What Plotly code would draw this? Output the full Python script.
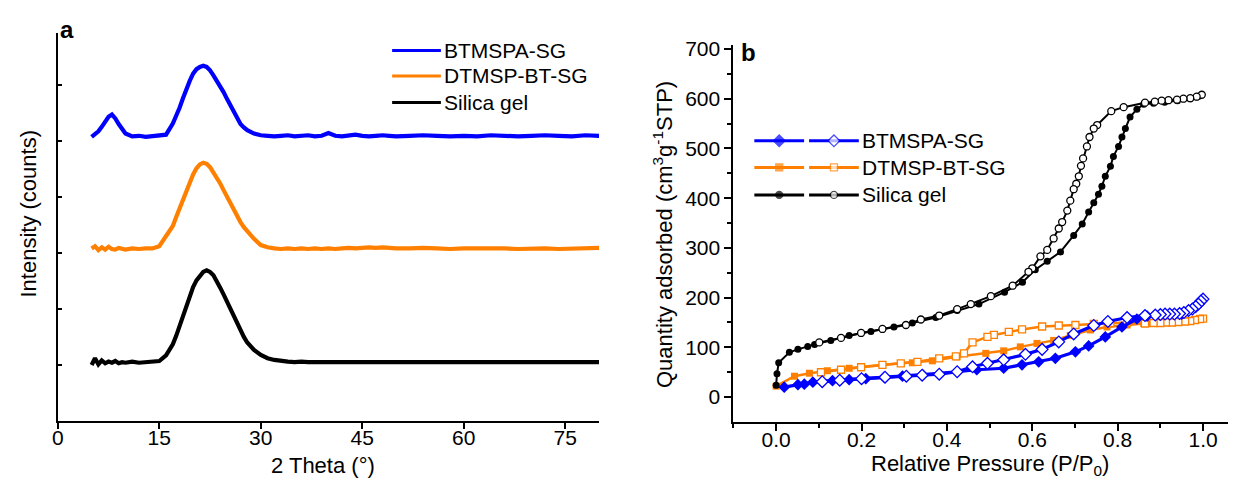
import plotly.graph_objects as go

# the page body keeps an 8 px margin, so the figure is 16 px smaller than the window
OFF = 8
W, H = 1236 - 2 * OFF, 486 - 2 * OFF

# ---- panel a : XRD patterns (curves stacked with an offset) ----
two_theta = [5, 5.5, 6, 6.5, 7, 7.5, 8, 8.5, 9, 9.5, 10, 11, 12, 13, 14, 15, 16, 17,
             17.5, 18, 18.5, 19, 19.5, 20, 20.5, 21, 21.5, 22, 22.5, 23, 23.5, 24, 24.5,
             25, 25.5, 26, 26.5, 27, 27.5, 28, 29, 30, 31, 32, 33, 34, 35, 36, 37, 38,
             39, 40, 41, 42, 43, 44, 45, 46, 47, 48, 49, 50, 52, 54, 56, 58, 60, 62, 64,
             66, 68, 70, 72, 74, 76, 78, 80]

xrd_btmspa = [5070, 5110, 5170, 5250, 5340, 5430, 5470, 5400, 5300, 5210, 5130, 5080, 5090,
              5070, 5080, 5090, 5110, 5310, 5430, 5590, 5760, 5930, 6070, 6200, 6280, 6320,
              6340, 6320, 6260, 6170, 6080, 5990, 5870, 5750, 5630, 5510, 5390, 5300, 5240,
              5190, 5130, 5100, 5090, 5080, 5090, 5100, 5080, 5090, 5100, 5080, 5090, 5140,
              5090, 5080, 5100, 5110, 5090, 5080, 5090, 5100, 5090, 5080, 5090, 5100, 5090,
              5080, 5090, 5080, 5100, 5090, 5080, 5090, 5100, 5090, 5080, 5100, 5090]

xrd_dtmsp = [3080, 3120, 3050, 3100, 3060, 3110, 3070, 3060, 3090, 3070, 3060, 3080, 3070,
             3080, 3080, 3120, 3290, 3480, 3640, 3800, 3960, 4110, 4270, 4400, 4510, 4580,
             4610, 4590, 4530, 4440, 4340, 4240, 4120, 4000, 3880, 3760, 3650, 3550, 3460,
             3380, 3250, 3140, 3100, 3080, 3070, 3080, 3070, 3080, 3070, 3080, 3070, 3080,
             3070, 3080, 3090, 3080, 3090, 3100, 3090, 3100, 3090, 3080, 3080, 3090, 3080,
             3070, 3080, 3080, 3090, 3080, 3070, 3080, 3080, 3070, 3080, 3080, 3090]

xrd_silica = [1000, 1120, 1010, 1080, 1030, 1060, 1040, 1070, 1030, 1050, 1040, 1060, 1040,
              1050, 1050, 1070, 1170, 1370, 1520, 1700, 1880, 2060, 2240, 2390, 2510, 2600,
              2660, 2690, 2660, 2600, 2500, 2380, 2260, 2130, 2000, 1860, 1740, 1620, 1500,
              1400, 1270, 1180, 1120, 1090, 1070, 1060, 1050, 1060, 1050, 1050, 1060, 1050,
              1050, 1060, 1050, 1060, 1050, 1050, 1060, 1050, 1050, 1060, 1050, 1050, 1060,
              1050, 1050, 1060, 1050, 1050, 1060, 1050, 1050, 1050, 1060, 1050, 1050]

# ---- panel b : N2 isotherms (filled = adsorption, open = desorption) ----
sg_ads_p = [0.000, 0.002, 0.006, 0.031, 0.051, 0.074, 0.090, 0.128, 0.171, 0.222, 0.276,
            0.319, 0.374, 0.424, 0.475, 0.535, 0.577, 0.607, 0.635, 0.666, 0.697, 0.717,
            0.732, 0.744, 0.755, 0.763, 0.771, 0.783, 0.790, 0.802, 0.810, 0.818, 0.829,
            0.845, 0.861, 0.884, 0.910, 0.940, 0.970, 0.990]
sg_ads_q = [24, 47, 69, 90, 96, 102, 106, 114, 124, 132, 141, 149, 160, 174, 187, 211, 231,
            256, 273, 292, 325, 348, 372, 391, 408, 424, 444, 464, 484, 504, 523, 540, 563,
            579, 589, 591, 593, 596, 600, 605]
sg_des_p = [0.997, 0.985, 0.970, 0.954, 0.939, 0.919, 0.903, 0.887, 0.864, 0.814, 0.785,
            0.752, 0.744, 0.734, 0.728, 0.719, 0.714, 0.709, 0.703, 0.697, 0.689, 0.682,
            0.670, 0.662, 0.650, 0.635, 0.619, 0.600, 0.591, 0.554, 0.503, 0.456, 0.424,
            0.382, 0.339, 0.304, 0.249, 0.199, 0.152, 0.101]
sg_des_q = [608, 604, 601, 600, 598, 597, 596, 594, 592, 583, 575, 547, 540, 523, 504, 480,
            465, 444, 429, 418, 395, 375, 352, 339, 319, 296, 283, 259, 252, 224, 203, 187,
            177, 164, 156, 145, 137, 129, 119, 110]

bt_ads_p = [0.019, 0.051, 0.066, 0.086, 0.132, 0.171, 0.210, 0.253, 0.296, 0.343, 0.424,
            0.470, 0.533, 0.576, 0.615, 0.654, 0.701, 0.732, 0.771, 0.810, 0.845, 0.869,
            0.900, 0.950]
bt_ads_q = [20, 25, 26, 30, 33, 35, 37, 40, 42, 45, 51, 55, 58, 65, 71, 78, 91, 103, 121,
            141, 157, 163, 165, 167]
bt_des_p = [1.000, 0.995, 0.989, 0.983, 0.975, 0.966, 0.955, 0.945, 0.933, 0.922, 0.911,
            0.900, 0.888, 0.864, 0.822, 0.777, 0.744, 0.697, 0.662, 0.623, 0.584, 0.533,
            0.495, 0.460, 0.424, 0.382, 0.342, 0.305, 0.255, 0.200, 0.149, 0.108]
bt_des_q = [197, 193, 187, 182, 177, 174, 170, 168, 167, 167, 167, 166, 165, 164, 160, 152,
            144, 127, 111, 96, 86, 75, 68, 61, 51, 46, 44, 42, 40, 37, 34, 31]

dt_ads_p = [0.000, 0.043, 0.078, 0.120, 0.171, 0.249, 0.319, 0.366, 0.424, 0.491, 0.533,
            0.572, 0.611, 0.650, 0.689, 0.736, 0.775, 0.822, 0.861, 0.880]
dt_ads_q = [22, 42, 48, 53, 58, 65, 69, 73, 81, 88, 93, 101, 108, 114, 124, 135, 141, 145,
            148, 148]
dt_des_p = [1.000, 0.993, 0.981, 0.970, 0.958, 0.942, 0.927, 0.913, 0.900, 0.884, 0.864,
            0.822, 0.783, 0.744, 0.701, 0.662, 0.623, 0.576, 0.545, 0.510, 0.495, 0.460,
            0.440, 0.421, 0.382, 0.331, 0.292, 0.249, 0.199, 0.152, 0.105]
dt_des_q = [158, 157, 155, 153, 152, 151, 150, 150, 149, 149, 148, 150, 149, 147, 145, 144,
            142, 136, 131, 125, 121, 110, 88, 82, 78, 71, 68, 65, 60, 55, 50]

names = ["BTMSPA-SG", "DTMSP-BT-SG", "Silica gel"]
BLUE, ORANGE, BLACK = "#0000FF", "#FF8000", "#000000"
FONT = "Liberation Sans, Arial, sans-serif"


def fx(px):  # window pixel -> paper fraction
    return (px - OFF) / W


def fy(py):
    return (OFF + H - py) / H


fig = go.Figure()

# panel a
for yv, c in [(xrd_btmspa, BLUE), (xrd_dtmsp, ORANGE), (xrd_silica, BLACK)]:
    fig.add_trace(go.Scatter(x=two_theta, y=yv, mode="lines", line=dict(color=c, width=4.2),
                             xaxis="x", yaxis="y", showlegend=False))

# panel b
iso = [(dt_ads_p, dt_ads_q, dt_des_p, dt_des_q, ORANGE, "square", 7, 2.5),
       (bt_ads_p, bt_ads_q, bt_des_p, bt_des_q, BLUE, "diamond", 9, 3.2),
       (sg_ads_p, sg_ads_q, sg_des_p, sg_des_q, BLACK, "circle", 7, 2)]
for ap, aq, dp, dq, c, sym, sz, lw in iso:
    fig.add_trace(go.Scatter(x=ap, y=aq, mode="lines+markers", line=dict(color=c, width=lw),
                             marker=dict(symbol=sym, size=sz, color=c),
                             xaxis="x2", yaxis="y2", showlegend=False))
    fig.add_trace(go.Scatter(x=dp, y=dq, mode="lines+markers", line=dict(color=c, width=lw),
                             marker=dict(symbol=sym, size=sz, color="white",
                                         line=dict(color=c, width=1.3)),
                             xaxis="x2", yaxis="y2", showlegend=False))

# hand-made legends drawn on an overlay axis measured in window pixels
leg_a_rows = [43, 69, 96]
leg_b_rows = [135, 162, 190]
ann = []
for nm, c, yy in zip(names, [BLUE, ORANGE, BLACK], leg_a_rows):
    fig.add_trace(go.Scatter(x=[388, 437], y=[yy, yy], mode="lines", line=dict(color=c, width=3),
                             xaxis="x3", yaxis="y3", showlegend=False))
    ann.append(dict(x=438, y=yy, text=nm, xanchor="left", font=dict(size=21)))
leg_b_style = [(BLUE, "diamond", 9), (ORANGE, "square", 7), (BLACK, "circle", 7)]
for nm, (c, sym, sz), yy in zip(names, leg_b_style, leg_b_rows):
    for x0, x1, fill in [(752, 802, c), (807, 857, "white")]:
        fig.add_trace(go.Scatter(x=[x0, (x0 + x1) / 2, x1], y=[yy, yy, yy], mode="lines+markers",
                                 line=dict(color=c, width=3),
                                 marker=dict(symbol=sym, size=[0, sz, 0], color=fill,
                                             line=dict(color=c, width=1.3)),
                                 xaxis="x3", yaxis="y3", showlegend=False))
    ann.append(dict(x=858, y=yy, text=nm, xanchor="left", font=dict(size=21)))

# panel letters and axis titles
ann += [
    dict(x=52, y=22, text="<b>a</b>", xanchor="left", font=dict(size=24)),
    dict(x=737, y=45, text="<b>b</b>", xanchor="left", font=dict(size=24)),
    dict(x=23, y=209, text="Intensity (counts)", textangle=-90, font=dict(size=22)),
    dict(x=319, y=465, text="2 Theta (°)", font=dict(size=22)),
    dict(x=660, y=230, text="Quantity adsorbed (cm<sup>3</sup>g<sup>-1</sup>STP)",
         textangle=-90, font=dict(size=22)),
    dict(x=989, y=465, text="Relative Pressure (P/P<sub>0</sub>)", font=dict(size=22)),
]
for a in ann:
    a.setdefault("xanchor", "center")
    a.update(xref="x3", yref="y3", showarrow=False, yanchor="middle")

axis_common = dict(showline=True, linewidth=2, linecolor="black", showgrid=False,
                   zeroline=False, tickcolor="black", tickwidth=1.5, tickfont=dict(size=21))

fig.update_layout(
    width=W, height=H, margin=dict(l=0, r=0, t=0, b=0),
    paper_bgcolor="white", plot_bgcolor="rgba(0,0,0,0)",
    font=dict(family=FONT, color="black"),
    annotations=ann,
    xaxis=dict(domain=[fx(52), fx(596)], anchor="y", range=[0, 80],
               tickvals=[0, 15, 30, 45, 60, 75], ticks="outside", ticklen=6,
               ticklabelstandoff=-9, **axis_common),
    yaxis=dict(domain=[fy(420), fy(25)], anchor="x", range=[0, 6930],
               tickvals=[1000, 2000, 3000, 4000, 5000, 6000], ticks="inside", ticklen=4,
               showticklabels=False, **axis_common),
    xaxis2=dict(domain=[fx(731), 1], anchor="y2", range=[-0.1, (OFF + W - 775) / 428],
                tickvals=[0, 0.2, 0.4, 0.6, 0.8, 1.0], tickformat=".1f", ticks="outside",
                ticklen=7, ticklabelstandoff=-9,
                minor=dict(tickvals=[-0.1, 0.1, 0.3, 0.5, 0.7, 0.9], ticks="outside",
                           ticklen=4, tickcolor="black", tickwidth=1.5),
                **axis_common),
    yaxis2=dict(domain=[fy(421), fy(38)], anchor="x2", range=[-50, 707],
                tickvals=[0, 100, 200, 300, 400, 500, 600, 700], ticks="outside", ticklen=7,
                minor=dict(tickvals=[50, 150, 250, 350, 450, 550, 650], ticks="outside",
                           ticklen=4, tickcolor="black", tickwidth=1.5),
                **axis_common),
    xaxis3=dict(domain=[0, 1], anchor="y3", range=[OFF, OFF + W], visible=False, fixedrange=True),
    yaxis3=dict(domain=[0, 1], anchor="x3", range=[OFF + H, OFF], visible=False, fixedrange=True),
)

fig.write_html("out.html")
